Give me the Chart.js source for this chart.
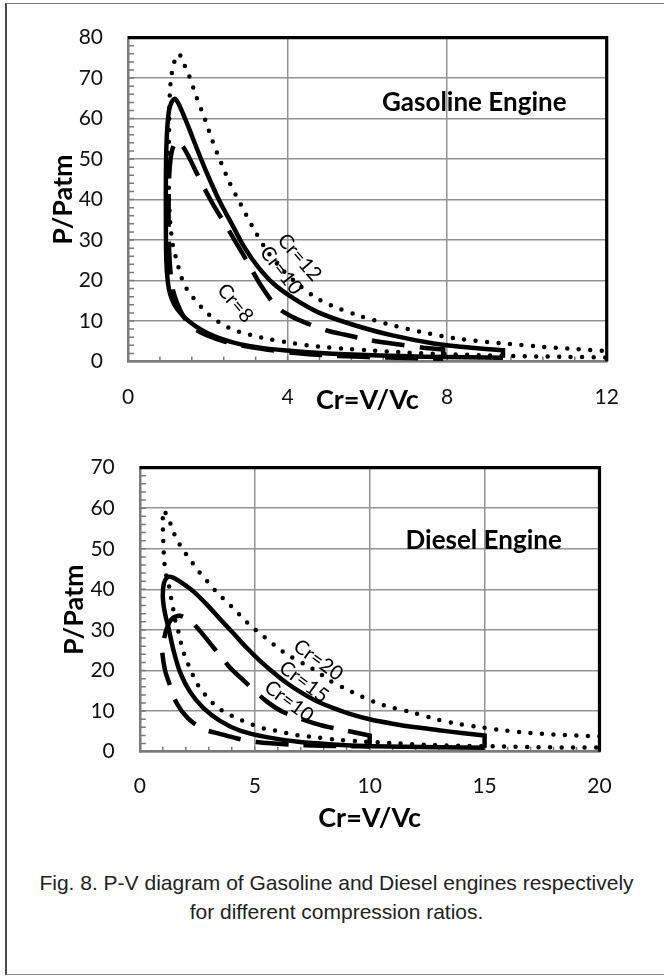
<!DOCTYPE html>
<html lang="en">
<head>
<meta charset="UTF-8">
<title>P-V diagram</title>
<style>
  body { margin: 0; background: #fff; overflow: hidden; }
  #frame { position: absolute; left: 5px; top: 3px; width: 665px; height: 970px;
           border-left: 2px solid #4a4a4a; border-top: 1px solid #777; border-bottom: 1px solid #8a8a8a; }
  canvas { position: absolute; left: 0; }
  #gasChart { top: 0; }
  #dieselChart { top: 430px; }
  #caption { position: absolute; left: 0; width: 673px; top: 869px; text-align: center;
             font: 21px/28.7px "Liberation Sans", Arial, sans-serif; color: #222; }
</style>
</head>
<body>
<div id="frame"></div>
<canvas id="gasChart" width="664" height="430"></canvas>
<canvas id="dieselChart" width="664" height="430"></canvas>
<div id="caption">Fig. 8. P-V diagram of Gasoline and Diesel engines respectively<br>for different compression ratios.</div>

<script src="https://cdn.jsdelivr.net/npm/chart.js"></script>
<script>
// ---- gasoline engine (V/Vc, P/Patm) ----
// the end of the expansion stroke is listed twice so the spline keeps a sharp corner there
const gas12V = [12, 12, 12, 11.2, 10.3, 9.35, 8.3, 7.4, 6.5, 5.8, 5.1, 4.63, 4.2, 3.8, 3.45, 3.12, 2.82, 2.55, 2.33, 2.12, 1.93, 1.72, 1.53, 1.4, 1.275, 1.16, 1.09, 1.05, 1.03, 1.02, 1.03, 1.06, 1.12, 1.2, 1.35, 1.49, 1.68, 1.86, 2.06, 2.3, 2.58, 2.83, 3.18, 3.5, 4.0, 4.5, 5.0, 5.5, 6.07, 7.0, 8.0, 9.0, 10, 11, 12];
const gas12P = [1.0, 2.6, 2.6, 3.1, 3.7, 4.5, 5.6, 7.2, 9.3, 11.3, 13.8, 16.3, 19.6, 23.4, 27.8, 33.3, 38.9, 44.1, 49.2, 54.4, 59.8, 65.2, 70.6, 73.5, 76, 74, 70.6, 66.5, 58, 48, 40, 34, 29, 25.7, 20.5, 17.6, 15.2, 13.2, 11.3, 9.6, 8.1, 7.2, 6.3, 5.6, 4.7, 4.0, 3.5, 3.1, 2.75, 2.2, 1.8, 1.5, 1.3, 1.15, 1.0];

const gas10V = [9.4, 9.4, 9.4, 8.6, 7.7, 6.6, 5.6, 4.8, 4.15, 3.65, 3.25, 2.9, 2.6, 2.3, 2.0, 1.75, 1.5, 1.3, 1.18, 1.09, 1.02, 0.97, 0.95, 0.95, 0.96, 1.0, 1.06, 1.15, 1.28, 1.45, 1.7, 2.0, 2.4, 2.8, 3.4, 4.0, 4.5, 5.3, 6.3, 7.4, 8.5, 9.4];
const gas10P = [0.9, 2.8, 2.8, 3.4, 4.4, 6.5, 9.2, 12, 15.6, 19.2, 23.5, 28.5, 34, 39.5, 46, 52, 58.3, 63, 64.9, 64, 61.5, 55, 46, 34, 25, 19.5, 16.5, 14.3, 12.4, 10.6, 8.7, 7.0, 5.4, 4.3, 3.3, 2.7, 2.3, 1.85, 1.5, 1.2, 1.05, 0.9];

const gas8V = [7.9, 7.9, 7.9, 7.4, 6.8, 6.0, 5.45, 5.0, 4.55, 4.1, 3.73, 3.35, 3.0, 2.7, 2.4, 2.15, 1.88, 1.66, 1.5, 1.35, 1.22, 1.1, 1.04, 1.02, 1.02, 1.05, 1.12, 1.25, 1.4, 1.56, 1.75, 2.0, 2.4, 2.8, 3.5, 4.2, 5.0, 6.0, 7.0, 7.9];
const gas8P = [0.7, 3.0, 3.0, 3.4, 4.2, 5.4, 6.6, 7.6, 9.2, 11.1, 13.5, 18.5, 24.5, 29.5, 34.5, 38.5, 43.4, 47.8, 51, 53.5, 54.5, 52, 47, 40, 32, 24, 18, 14, 11, 9.1, 7.6, 6.4, 5.0, 4.0, 2.9, 2.1, 1.5, 1.1, 0.85, 0.7];

// ---- diesel engine ----
const dsl20V = [20, 20, 20, 19, 18, 17, 15.9, 14.9, 13.9, 12.9, 11.9, 10.9, 10.4, 9.5, 9.07, 8.2, 7.76, 7.26, 6.43, 6.02, 5.62, 5.23, 4.83, 4.47, 4.11, 3.75, 3.39, 3.05, 2.72, 2.4, 2.11, 1.82, 1.57, 1.35, 1.15, 1.02, 1.0, 1.02, 1.08, 1.2, 1.31, 1.38, 1.48, 1.57, 1.72, 1.82, 1.97, 2.16, 2.38, 2.62, 2.94, 3.3, 3.7, 4.14, 4.6, 5.08, 5.56, 6.1, 6.6, 7.1, 7.6, 8.5, 9.5, 11, 12.5, 14, 15.5, 17, 18.5, 20];
const dsl20P = [1.0, 3.8, 3.8, 4.0, 4.25, 4.6, 5.2, 6.0, 6.8, 8.0, 9.6, 11.0, 11.8, 14.0, 15.2, 17.7, 19.6, 21.2, 23.9, 25.5, 27.4, 29.1, 31.0, 33.0, 35.1, 37.1, 39.0, 41.3, 43.3, 45.7, 47.9, 50.3, 52.7, 56, 58.5, 59.5, 57, 52, 46, 42, 40, 37.2, 34.4, 31.6, 28.8, 26, 23.4, 20.8, 18, 15.6, 13.4, 11.3, 9.7, 8.5, 7.3, 6.3, 5.5, 5.0, 4.3, 3.9, 3.6, 3.0, 2.6, 2.1, 1.7, 1.45, 1.3, 1.15, 1.05, 1.0];

const dsl15V = [15, 15, 15, 14, 13, 12, 11, 10, 9.1, 8.4, 7.68, 6.96, 6.38, 5.8, 5.23, 4.65, 4.07, 3.49, 2.91, 2.33, 1.75, 1.4, 1.2, 1.05, 1.0, 1.05, 1.14, 1.24, 1.46, 1.75, 2.18, 2.76, 3.49, 4.36, 5.52, 6.97, 8.41, 9.86, 11.5, 13, 15];
const dsl15P = [1.0, 4.0, 4.0, 4.6, 5.3, 6.0, 6.9, 8.0, 9.4, 10.8, 12.5, 14.8, 17.0, 19.6, 22.4, 25.6, 29.2, 32.7, 36.3, 39.5, 41.9, 43, 43, 41.5, 38.5, 35.5, 33, 30.7, 25.1, 19.6, 14.8, 10.8, 7.6, 5.2, 3.6, 2.4, 1.8, 1.4, 1.2, 1.1, 1.0];

const dsl10V = [10, 10, 10, 8.63, 7.83, 6.31, 5.52, 4.43, 3.85, 2.83, 2.26, 1.75, 1.39, 1.15, 1.0, 0.97, 1.1, 1.31, 1.6, 2.1, 2.76, 3.49, 4.2, 5.08, 5.88, 6.7, 7.54, 8.34, 9.2, 10];
const dsl10P = [1.3, 4.0, 4.0, 5.6, 6.6, 9.6, 12.4, 18.0, 21.2, 28.3, 31.9, 33.5, 32.7, 30, 26, 24.8, 20, 16.4, 12, 8.2, 5.6, 4.4, 3.3, 2.4, 2.0, 1.7, 1.5, 1.4, 1.35, 1.3];

// ---- axes / text ----
const gasTicks = { xMax: 12, xStep: 4, xMinor: 0.8, yMax: 80, yStep: 10, yMinor: 2 };
const dslTicks = { xMax: 20, xStep: 5, xMinor: 1, yMax: 70, yStep: 10, yMinor: 2 };
const gasCurveNames = ['Cr=12', 'Cr=10', 'Cr=8'];
const dslCurveNames = ['Cr=20', 'Cr=15', 'Cr=10'];

const FONT = 'Lato, "Open Sans", sans-serif';
const gridColor = '#939393';
const axisColor = '#7a7a7a';

function pts(v, p) { return v.map((x, i) => ({ x: x, y: p[i] })); }

const lineBase = { borderColor: '#000', borderWidth: 4.5, pointRadius: 0, showLine: true, tension: 0.3, fill: false };
const dotted = Object.assign({}, lineBase, { borderDash: [0, 11.5], borderCapStyle: 'round' });
const dashed = Object.assign({}, lineBase, { borderDash: [33, 15], borderCapStyle: 'butt' });
const solid = Object.assign({}, lineBase, { borderCapStyle: 'butt' });

function minorList(max, step) {
  const out = [];
  for (let v = step; v < max - 1e-6; v += step) out.push(v);
  return out;
}

// minor tick marks inside the plot, black top/right frame and curve notes
const framePlugin = {
  id: 'frame',
  beforeDatasetsDraw(chart, args, opts) {
    const { ctx, chartArea: a, scales: { x, y } } = chart;
    ctx.save();
    ctx.strokeStyle = axisColor;
    ctx.lineWidth = 1.5;
    ctx.beginPath();
    opts.minorX.forEach(v => {
      const px = x.getPixelForValue(v);
      ctx.moveTo(px, a.bottom); ctx.lineTo(px, a.bottom - 5);
    });
    opts.minorY.forEach(v => {
      const py = y.getPixelForValue(v);
      ctx.moveTo(a.left, py); ctx.lineTo(a.left + 6, py);
    });
    ctx.stroke();
    ctx.restore();
  },
  afterDatasetsDraw(chart, args, opts) {
    const { ctx, chartArea: a, scales: { x, y } } = chart;
    ctx.save();
    ctx.strokeStyle = '#000';
    ctx.lineWidth = 3.2;
    ctx.beginPath();
    ctx.moveTo(a.left, a.top); ctx.lineTo(a.right, a.top); ctx.lineTo(a.right, a.bottom);
    ctx.stroke();

    ctx.fillStyle = '#000';
    ctx.textAlign = 'center';
    ctx.textBaseline = 'middle';
    opts.notes.forEach(n => {
      ctx.save();
      ctx.translate(x.getPixelForValue(n.v), y.getPixelForValue(n.p));
      ctx.rotate(n.angle * Math.PI / 180);
      ctx.font = n.font;
      ctx.fillText(n.text, 0, 0);
      ctx.restore();
    });
    ctx.restore();
  }
};

function makeChart(id, t, datasets, L, notes) {
  return new Chart(document.getElementById(id), {
    type: 'scatter',
    data: { datasets: datasets },
    options: {
      responsive: false,
      animation: false,
      layout: { padding: { top: L.top, right: L.right, left: 0, bottom: 0 } },
      plugins: {
        legend: { display: false },
        tooltip: { enabled: false },
        frame: { minorX: minorList(t.xMax, t.xMinor), minorY: minorList(t.yMax, t.yMinor), notes: notes }
      },
      scales: {
        x: {
          type: 'linear', min: 0, max: t.xMax,
          ticks: { stepSize: t.xStep, padding: L.xPad, color: '#111', font: { family: FONT, size: 21 } },
          grid: { color: gridColor, lineWidth: 1.5, drawTicks: false },
          border: { color: axisColor, width: 2.5 },
          title: { display: true, text: 'Cr=V/Vc', color: '#000', padding: { top: 0, bottom: L.xTitlePad },
                   font: { family: FONT, size: 27, weight: 'bold' } },
          afterFit: s => { s.height = L.xHeight; }
        },
        y: {
          min: 0, max: t.yMax,
          ticks: { stepSize: t.yStep, padding: 25, color: '#111', font: { family: FONT, size: 21 } },
          grid: { color: gridColor, lineWidth: 1.5, drawTicks: false },
          border: { color: axisColor, width: 2.5 },
          title: { display: true, text: 'P/Patm', color: '#000', padding: { top: L.yTitlePad, bottom: 0 },
                   font: { family: FONT, size: 27, weight: 'bold' } },
          afterFit: s => { s.width = L.left; }
        }
      }
    },
    plugins: [framePlugin]
  });
}

const noteFont = '20px ' + FONT;
const headFont = 'bold 26px ' + FONT;

makeChart('gasChart', gasTicks, [
  Object.assign({ data: pts(gas12V, gas12P) }, dotted),
  Object.assign({ data: pts(gas10V, gas10P) }, solid),
  Object.assign({ data: pts(gas8V, gas8P) }, dashed)
], { top: 29.5, right: 57.3, left: 128, xHeight: 68.5, xPad: 22.8, xTitlePad: 13.8, yTitlePad: 46.8 }, [
  { text: 'Gasoline Engine', v: 8.68, p: 63.9, angle: 0, font: headFont },
  { text: gasCurveNames[0], v: 4.3, p: 25.7, angle: 49, font: noteFont },
  { text: gasCurveNames[1], v: 3.84, p: 22.5, angle: 52, font: noteFont },
  { text: gasCurveNames[2], v: 2.69, p: 14.4, angle: 50, font: noteFont }
]);

makeChart('dieselChart', dslTicks, [
  Object.assign({ data: pts(dsl20V, dsl20P) }, dotted),
  Object.assign({ data: pts(dsl15V, dsl15P) }, solid),
  Object.assign({ data: pts(dsl10V, dsl10P) }, dashed)
], { top: 29.3, right: 64.5, left: 139.8, xHeight: 108.3, xPad: 21.8, xTitlePad: 25.8, yTitlePad: 57.8 }, [
  { text: 'Diesel Engine', v: 14.96, p: 52, angle: 0, font: headFont },
  { text: dslCurveNames[0], v: 7.76, p: 22.6, angle: 36, font: noteFont },
  { text: dslCurveNames[1], v: 7.14, p: 17.2, angle: 36.5, font: noteFont },
  { text: dslCurveNames[2], v: 6.49, p: 12.4, angle: 36.5, font: noteFont }
]);
</script>
</body>
</html>
